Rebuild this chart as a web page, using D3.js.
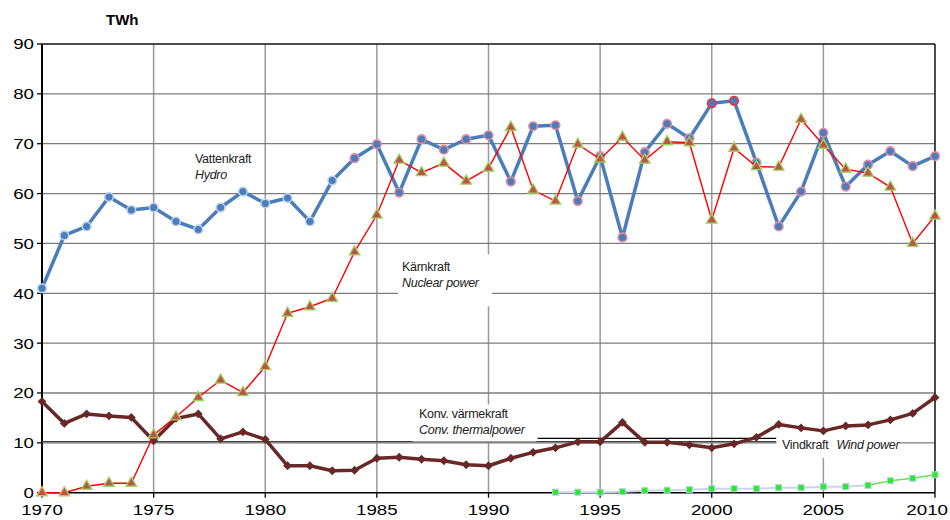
<!DOCTYPE html>
<html>
<head>
<meta charset="utf-8">
<script src="https://cdn.jsdelivr.net/npm/d3@7"></script>
<style>
  body { margin: 0; background: #fff; }
  svg { display: block; font-family: "Liberation Sans", Arial, sans-serif; }
  .lbl { font-family: "Liberation Sans Narrow", "Liberation Sans", Arial, sans-serif; font-size: 12.5px; letter-spacing: -0.3px; fill: #222; }
  .lbl .it { font-style: italic; }
</style>
</head>
<body>
<div id="app"></div>
<script>
const years = d3.range(1970, 2011);
const windYears = d3.range(1993, 2011);

// TWh per year
const hydro = [41.0, 51.6, 53.4, 59.3, 56.7, 57.2, 54.4, 52.8, 57.2, 60.4,
  58.0, 59.1, 54.4, 62.6, 67.1, 69.9, 60.2, 70.9, 68.8, 70.9,
  71.7, 62.4, 73.5, 73.7, 58.5, 67.5, 51.2, 68.3, 74.0, 71.1,
  78.1, 78.6, 66.2, 53.4, 60.4, 72.2, 61.4, 65.8, 68.5, 65.5, 67.5];
const nuclear = [0.0, 0.0, 1.3, 1.9, 1.9, 11.6, 15.2, 19.1, 22.6, 20.1,
  25.3, 36.0, 37.3, 39.0, 48.3, 55.7, 66.7, 64.2, 66.1, 62.5,
  65.1, 73.3, 60.7, 58.5, 69.9, 66.9, 71.3, 66.7, 70.4, 70.2,
  54.7, 69.1, 65.4, 65.3, 74.9, 69.7, 64.9, 64.1, 61.3, 50.0, 55.5];
const thermal = [18.3, 13.9, 15.8, 15.4, 15.1, 10.4, 14.9, 15.8, 10.8, 12.2,
  10.7, 5.4, 5.4, 4.4, 4.5, 6.9, 7.1, 6.7, 6.4, 5.6,
  5.4, 6.9, 8.1, 9.0, 10.2, 10.2, 14.1, 10.1, 10.1, 9.6,
  9.0, 9.8, 11.1, 13.7, 13.0, 12.4, 13.4, 13.6, 14.6, 15.9, 19.1];
const wind = [0.1, 0.1, 0.1, 0.2, 0.4, 0.5, 0.6, 0.8, 0.8, 0.8,
  1.0, 1.0, 1.2, 1.2, 1.5, 2.4, 2.9, 3.6];

const yTicks = [0, 10, 20, 30, 40, 50, 60, 70, 80, 90];
const xTicks = [1970, 1975, 1980, 1985, 1990, 1995, 2000, 2005, 2010];

const W = 950, H = 520;
const plotLeft = 42, plotRight = 935, plotTop = 44, plotBottom = 492.7;

const svg = d3.select('#app').append('svg')
  .attr('width', W).attr('height', H);

const x = d3.scaleLinear().domain([1970, 2010]).range([plotLeft, plotRight]);
const y = d3.scaleLinear().domain([0, 90]).range([plotBottom, plotTop]);

/////////GRID//////////
svg.append('g').selectAll('line')
  .data(xTicks.slice(1, -1))
  .join('line')
  .attr('x1', d => x(d)).attr('x2', d => x(d))
  .attr('y1', plotTop).attr('y2', plotBottom)
  .attr('stroke', '#9a9a9a').attr('stroke-width', 1.5);

svg.append('g').selectAll('line')
  .data(yTicks.slice(1, -1))
  .join('line')
  .attr('x1', plotLeft).attr('x2', plotRight)
  .attr('y1', d => y(d)).attr('y2', d => y(d))
  .attr('stroke', '#7c7c7c').attr('stroke-width', 1.3);

// frame
svg.append('line').attr('x1', plotLeft).attr('x2', plotRight).attr('y1', plotTop).attr('y2', plotTop)
  .attr('stroke', '#111').attr('stroke-width', 1.5);
svg.append('line').attr('x1', plotRight).attr('x2', plotRight).attr('y1', plotTop).attr('y2', plotBottom)
  .attr('stroke', '#111').attr('stroke-width', 1.5);

/////////AXES//////////
const yAxis = svg.append('g');
yAxis.append('line').attr('x1', plotLeft).attr('x2', plotLeft).attr('y1', plotTop).attr('y2', plotBottom)
  .attr('stroke', '#000').attr('stroke-width', 2);
yAxis.selectAll('.tick').data(yTicks).join('line')
  .attr('class', 'tick')
  .attr('x1', plotLeft - 5).attr('x2', plotLeft)
  .attr('y1', d => y(d)).attr('y2', d => y(d))
  .attr('stroke', '#000').attr('stroke-width', 1.3);
yAxis.selectAll('text').data(yTicks).join('text')
  .attr('transform', d => `translate(34,${y(d)}) scale(1.25,1)`)
  .attr('text-anchor', 'end')
  .attr('dy', '0.36em')
  .style('font-size', '15px')
  .text(d => d);

const xAxis = svg.append('g');
xAxis.append('line').attr('x1', plotLeft).attr('x2', plotRight).attr('y1', plotBottom).attr('y2', plotBottom)
  .attr('stroke', '#000').attr('stroke-width', 1.5);
xAxis.selectAll('.tick').data(xTicks).join('line')
  .attr('class', 'tick')
  .attr('x1', d => x(d)).attr('x2', d => x(d))
  .attr('y1', plotBottom).attr('y2', plotBottom + 5)
  .attr('stroke', '#000').attr('stroke-width', 1.3);
// last label would run past the right edge, so pin its end inside the page
xAxis.selectAll('text').data(xTicks).join('text')
  .attr('transform', d => d === 2010
    ? `translate(${W - 2},515) scale(1.25,1)`
    : `translate(${x(d)},515) scale(1.25,1)`)
  .attr('text-anchor', d => d === 2010 ? 'end' : 'middle')
  .style('font-size', '15px')
  .text(d => d);

svg.append('text')
  .attr('x', 106).attr('y', 25)
  .style('font-size', '15px').style('font-weight', 'bold')
  .text('TWh');

//////////LEADER LINES + LABEL BOXES//////////
svg.append('line')
  .attr('x1', x(1970)).attr('x2', x(2002.9)).attr('y1', y(10.25)).attr('y2', y(10.25))
  .attr('stroke', '#444').attr('stroke-width', 1.3);
svg.append('line')
  .attr('x1', x(1992.2)).attr('x2', x(2002.9)).attr('y1', y(10.9)).attr('y2', y(10.9))
  .attr('stroke', '#000').attr('stroke-width', 1.3);

function labelBox(x0, y0, w, h) {
  svg.append('rect').attr('x', x0).attr('y', y0).attr('width', w).attr('height', h)
    .attr('fill', '#fff');
}
labelBox(x(1985.95), y(47.8), 94, 52);
labelBox(x(1986.6), y(17.7), 124, 37);
labelBox(x(2002.9), y(12.6), 123, 28);

//////////SERIES//////////
const hydroData = years.map((yr, i) => ({ year: yr, v: hydro[i] }));
const nuclearData = years.map((yr, i) => ({ year: yr, v: nuclear[i] }));
const thermalData = years.map((yr, i) => ({ year: yr, v: thermal[i] }));
const windData = windYears.map((yr, i) => ({ year: yr, v: wind[i] }));

const line = d3.line().x(d => x(d.year)).y(d => y(d.v));

// hydro
svg.append('path').datum(hydroData)
  .attr('d', line).attr('fill', 'none')
  .attr('stroke', '#4a7ebb').attr('stroke-width', 3.5).attr('stroke-linejoin', 'round');
svg.append('g').selectAll('circle').data(hydroData).join('circle')
  .attr('cx', d => x(d.year)).attr('cy', d => y(d.v)).attr('r', 4.3)
  .attr('fill', '#4a7ebb')
  .attr('stroke', d => d.year === 2000 || d.year === 2001 ? '#f0303a' : (d.year < 1984 ? '#bcd0ee' : '#e48aa0'))
  .attr('stroke-width', 1.6);

// conventional thermal
svg.append('path').datum(thermalData)
  .attr('d', line).attr('fill', 'none')
  .attr('stroke', '#682828').attr('stroke-width', 3.5).attr('stroke-linejoin', 'round');
svg.append('g').selectAll('path').data(thermalData).join('path')
  .attr('transform', d => `translate(${x(d.year)},${y(d.v)})`)
  .attr('d', d3.symbol(d3.symbolDiamond2, 50))
  .attr('fill', '#682828');

// nuclear
svg.append('path').datum(nuclearData)
  .attr('d', line).attr('fill', 'none')
  .attr('stroke', '#ff0000').attr('stroke-width', 1.4);
svg.append('g').selectAll('path').data(nuclearData).join('path')
  .attr('transform', d => `translate(${x(d.year)},${y(d.v)})`)
  .attr('d', d3.symbol(d3.symbolTriangle, 48))
  .attr('fill', '#c0504d')
  .attr('stroke', '#9bd55a').attr('stroke-width', 1.3);

// wind
svg.append('path').datum(windData.filter(d => d.year <= 2007))
  .attr('d', line).attr('fill', 'none')
  .attr('stroke', '#c8d6ee').attr('stroke-width', 2);
svg.append('path').datum(windData.filter(d => d.year >= 2007))
  .attr('d', line).attr('fill', 'none')
  .attr('stroke', '#66e055').attr('stroke-width', 1.5);
svg.append('g').selectAll('rect').data(windData).join('rect')
  .attr('x', d => x(d.year) - 3).attr('y', d => y(d.v) - 3)
  .attr('width', 6).attr('height', 6)
  .attr('fill', '#22ee22').attr('stroke', '#b8cce8').attr('stroke-width', 1);

//////////LABELS//////////
function label(x0, y0, a, b, gap) {
  const t = svg.append('text').attr('class', 'lbl').attr('x', x0).attr('y', y0);
  if (gap) {
    t.append('tspan').text(a);
    t.append('tspan').attr('class', 'it').attr('dx', gap).text(b);
  } else {
    t.append('tspan').attr('x', x0).text(a);
    t.append('tspan').attr('class', 'it').attr('x', x0).attr('dy', '1.25em').text(b);
  }
}
label(195, 163, 'Vattenkraft', 'Hydro');
label(402, 271, 'Kärnkraft', 'Nuclear power');
label(419, 418, 'Konv. värmekraft', 'Conv. thermalpower');
label(782, 449, 'Vindkraft', 'Wind power', 8);
</script>
</body>
</html>
